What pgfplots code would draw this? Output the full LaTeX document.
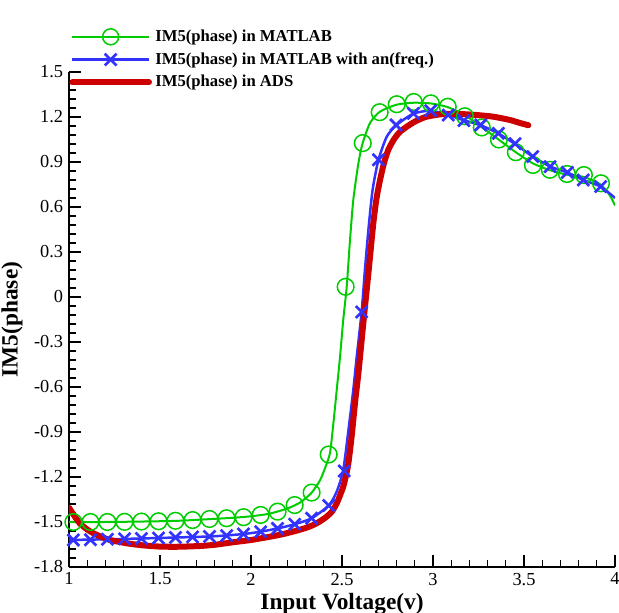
\documentclass[border=0pt]{standalone}
\usepackage{fontspec}
\setmainfont{Liberation Serif}
\usepackage{pgfplots}
\pgfplotsset{compat=1.18}
\definecolor{cgreen}{RGB}{0,204,0}
\definecolor{cblue}{RGB}{51,51,255}
\definecolor{cred}{RGB}{204,0,0}

\begin{document}
\begin{tikzpicture}
\begin{axis}[
    scale only axis,
    width=327.6pt, height=297pt,
    xmin=1, xmax=4, ymin=-1.8, ymax=1.5,
    axis lines*=left,
    axis line style={line width=1.6pt},
    xtick={1,1.5,2,2.5,3,3.5,4},
    xticklabels={1,1.5,2,2.5,3,3.5,4},
    ytick={-1.8,-1.5,-1.2,-0.9,-0.6,-0.3,0,0.3,0.6,0.9,1.2,1.5},
    yticklabels={-1.8,-1.5,-1.2,-0.9,-0.6,-0.3,0,0.3,0.6,0.9,1.2,1.5},
    minor x tick num=4, minor y tick num=4,
    tick align=inside,
    major tick length=7pt, minor tick length=4pt,
    major tick style={line width=1.4pt, black},
    minor tick style={line width=0.7pt, black},
    tick label style={font=\fontsize{11}{11}\selectfont},
    xlabel={Input Voltage(v)}, ylabel={IM5(phase)},
    label style={font=\bfseries\fontsize{14}{14}\selectfont},
    xlabel style={yshift=2.2pt},
    legend image code/.code={\draw[mark repeat=2,mark phase=2] plot coordinates {(0pt,0pt) (23pt,0pt) (46pt,0pt)};},
    legend style={at={(axis description cs:0,1.025)}, anchor=west, draw=none, fill=none,
        font=\bfseries\fontsize{10}{12}\selectfont, inner sep=0pt, row sep=1.2pt},
    legend cell align=left,
]
% MATLAB line
\addplot[cgreen, line width=1.2pt, smooth, tension=0.4, forget plot] coordinates {
(1.0,-1.50) (1.2,-1.50) (1.4,-1.497) (1.6,-1.492) (1.8,-1.479) (1.9,-1.472) (2.0,-1.462)
(2.1,-1.445) (2.2,-1.41) (2.27,-1.37) (2.333,-1.305) (2.38,-1.22) (2.41,-1.13) (2.434,-1.04)
(2.452,-0.85) (2.471,-0.62) (2.489,-0.40) (2.507,-0.15) (2.526,0.07) (2.544,0.38) (2.562,0.647)
(2.59,0.891) (2.613,1.024) (2.654,1.16) (2.709,1.236) (2.8,1.282) (2.894,1.295) (2.99,1.29)
(3.08,1.266) (3.175,1.212) (3.27,1.13) (3.36,1.05) (3.455,0.965) (3.55,0.89) (3.643,0.845)
(3.736,0.815) (3.83,0.80) (3.92,0.75) (3.97,0.68) (4.0,0.61)
};
% MATLAB markers
\addplot[cgreen, only marks, mark=o, mark size=5pt, mark options={line width=0.9pt}, forget plot] coordinates {
(1.024,-1.500) (1.118,-1.500) (1.211,-1.500) (1.305,-1.499) (1.398,-1.497) (1.492,-1.495)
(1.585,-1.492) (1.679,-1.487) (1.772,-1.480) (1.866,-1.475) (1.959,-1.468) (2.053,-1.453)
(2.146,-1.431) (2.240,-1.387) (2.333,-1.304) (2.427,-1.050) (2.520,0.068) (2.614,1.026)
(2.707,1.232) (2.801,1.285) (2.894,1.300) (2.988,1.291) (3.081,1.268) (3.175,1.205)
(3.268,1.130) (3.362,1.050) (3.455,0.965) (3.549,0.880) (3.642,0.848) (3.736,0.820)
(3.829,0.813) (3.923,0.758)
};
% MATLAB with an(freq.) line
\addplot[cblue, line width=1.5pt, smooth, tension=0.4, forget plot] coordinates {
(1.0,-1.62) (1.3,-1.613) (1.6,-1.603) (1.8,-1.595) (1.96,-1.58) (2.05,-1.565) (2.15,-1.542)
(2.24,-1.515) (2.333,-1.475) (2.427,-1.39) (2.47,-1.30) (2.507,-1.153) (2.54,-0.842)
(2.562,-0.62) (2.581,-0.398) (2.608,-0.098) (2.626,0.18) (2.645,0.447) (2.668,0.713)
(2.70,0.913) (2.746,1.069) (2.80,1.147) (2.892,1.222) (2.987,1.242) (3.084,1.213)
(3.17,1.178) (3.262,1.145) (3.359,1.09) (3.451,1.02) (3.548,0.936) (3.643,0.87)
(3.738,0.83) (3.826,0.78) (3.921,0.736) (4.0,0.66)
};
% MATLAB with an(freq.) markers
\addplot[cblue, only marks, mark=x, mark size=5pt, mark options={line width=1.6pt}, forget plot] coordinates {
(1.024,-1.620) (1.118,-1.618) (1.211,-1.615) (1.305,-1.612) (1.398,-1.610) (1.492,-1.607)
(1.585,-1.603) (1.679,-1.600) (1.772,-1.596) (1.866,-1.591) (1.959,-1.580) (2.053,-1.565)
(2.146,-1.543) (2.240,-1.515) (2.333,-1.475) (2.427,-1.390) (2.512,-1.160) (2.608,-0.100)
(2.700,0.915) (2.797,1.147) (2.892,1.224) (2.987,1.242) (3.084,1.213) (3.170,1.176)
(3.262,1.147) (3.359,1.091) (3.451,1.022) (3.548,0.936) (3.643,0.869) (3.738,0.831)
(3.826,0.780) (3.921,0.736)
};
% ADS
\addplot[cred, line width=3.6pt, line cap=round, smooth, tension=0.4, forget plot] coordinates {
(1.0,-1.405) (1.03,-1.46) (1.06,-1.51) (1.1,-1.55) (1.134,-1.575) (1.18,-1.60) (1.225,-1.62)
(1.317,-1.642) (1.4,-1.655) (1.5,-1.664) (1.6,-1.665) (1.72,-1.66) (1.8,-1.652) (1.903,-1.635)
(2.0,-1.62) (2.086,-1.602) (2.16,-1.585) (2.232,-1.564) (2.3,-1.54) (2.342,-1.52) (2.38,-1.495)
(2.416,-1.464) (2.445,-1.43) (2.471,-1.376) (2.49,-1.32) (2.507,-1.264) (2.522,-1.19)
(2.535,-1.109) (2.553,-0.93) (2.572,-0.70) (2.59,-0.509) (2.617,-0.176) (2.645,0.158)
(2.672,0.491) (2.69,0.66) (2.709,0.78) (2.73,0.89) (2.754,0.98) (2.785,1.05) (2.819,1.102)
(2.874,1.15) (2.91,1.175) (2.965,1.202) (3.057,1.22) (3.148,1.22) (3.24,1.213) (3.331,1.202)
(3.423,1.18) (3.478,1.16) (3.524,1.145)
};
\addlegendimage{cgreen, line width=1.2pt, mark=o, mark size=4.8pt, mark options={line width=0.9pt}}
\addlegendentry{IM5(phase) in MATLAB}
\addlegendimage{cblue, line width=1.5pt, mark=x, mark size=5pt, mark options={line width=1.6pt}}
\addlegendentry{IM5(phase) in MATLAB with an(freq.)}
\addlegendimage{cred, line width=3.6pt, line cap=round}
\addlegendentry{IM5(phase) in ADS}
\coordinate (ll) at (rel axis cs:0,0);
\coordinate (ur) at (rel axis cs:1,1);
\node[anchor=base, yshift=42pt, font=\bfseries\fontsize{12}{12}\selectfont] at (rel axis cs:0.357,1) {(a)};
\end{axis}
\pgfresetboundingbox
\path[use as bounding box] ([xshift=-41.4pt,yshift=-27.6pt]ll) rectangle ([xshift=2.4pt,yshift=43.2pt]ur);
\end{tikzpicture}
\end{document}
